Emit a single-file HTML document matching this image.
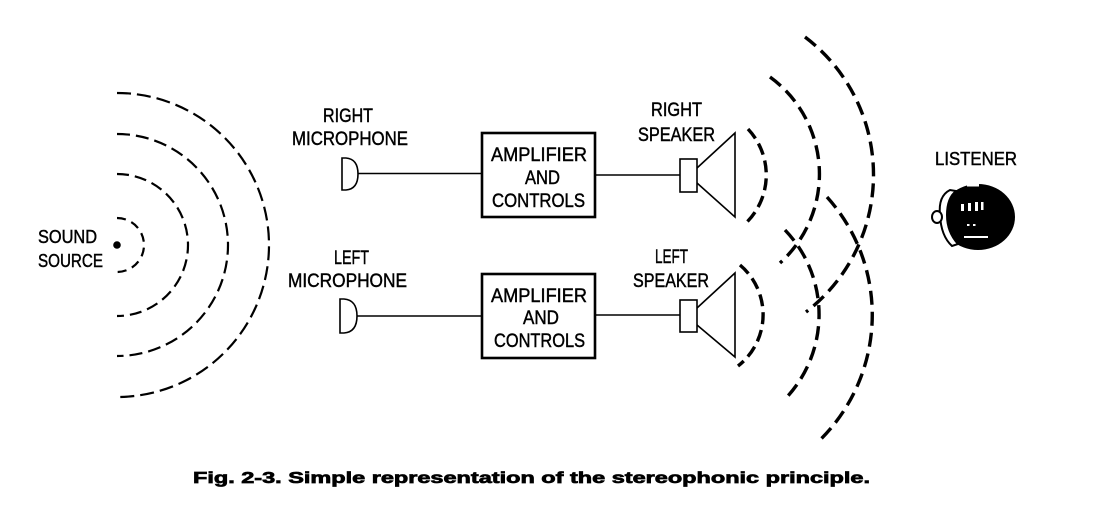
<!DOCTYPE html>
<html>
<head>
<meta charset="utf-8">
<style>
  html, body { margin: 0; padding: 0; background: #fff; }
  svg { display: block; }
  text { font-family: "Liberation Sans", sans-serif; fill: #000; }
  .lbl { stroke: #000; stroke-width: 0.45; }
  .cap { stroke: #000; stroke-width: 0.7; }
</style>
</head>
<body>
<svg width="1116" height="514" viewBox="0 0 1116 514" xmlns="http://www.w3.org/2000/svg">
  <rect x="0" y="0" width="1116" height="514" fill="#fff"/>

  <!-- Sound source -->
  <circle cx="117" cy="245" r="3.8" fill="#000"/>
  <g fill="none" stroke="#000" stroke-width="2.2">
    <path d="M117,218 A27,27 0 0 1 117,272" stroke-dasharray="9 6"/>
    <path d="M117,174 A71,71 0 0 1 117,316" stroke-dasharray="12 6"/>
    <path d="M117,134 A111,111 0 0 1 117,356" stroke-dasharray="13 6"/>
    <path d="M117,93 A152,152 0 0 1 117,397" stroke-dasharray="14 6"/>
  </g>
  <text class="lbl" x="38" y="243" font-size="18" textLength="59" lengthAdjust="spacingAndGlyphs">SOUND</text>
  <text class="lbl" x="38" y="267" font-size="18" textLength="65" lengthAdjust="spacingAndGlyphs">SOURCE</text>

  <!-- Microphone labels -->
  <text class="lbl" x="323" y="122" font-size="19" textLength="50" lengthAdjust="spacingAndGlyphs">RIGHT</text>
  <text class="lbl" x="292" y="145" font-size="19" textLength="116" lengthAdjust="spacingAndGlyphs">MICROPHONE</text>
  <text class="lbl" x="334" y="264" font-size="19" textLength="35" lengthAdjust="spacingAndGlyphs">LEFT</text>
  <text class="lbl" x="288" y="287" font-size="19" textLength="119" lengthAdjust="spacingAndGlyphs">MICROPHONE</text>

  <!-- Microphones and wires -->
  <g fill="none" stroke="#000" stroke-width="1.6">
    <path d="M342,158 L346,158 Q358,159 358,174 Q358,189 346,190 L342,190 Z"/>
    <path d="M340,299 L344,299 Q357,300 357,316 Q357,332 344,333 L340,333 Z"/>
    <line x1="358" y1="173.5" x2="481" y2="173.5"/>
    <line x1="357" y1="316" x2="481" y2="316"/>
    <line x1="596" y1="175" x2="680" y2="175"/>
    <line x1="596" y1="315" x2="680" y2="315"/>
  </g>

  <!-- Amplifier boxes -->
  <g fill="none" stroke="#000" stroke-width="2.6">
    <rect x="482" y="133" width="113" height="84"/>
    <rect x="482" y="274" width="113" height="84"/>
  </g>
  <text class="lbl" x="491" y="161" font-size="19" textLength="96" lengthAdjust="spacingAndGlyphs">AMPLIFIER</text>
  <text class="lbl" x="525" y="184" font-size="19" textLength="35" lengthAdjust="spacingAndGlyphs">AND</text>
  <text class="lbl" x="492" y="207" font-size="19" textLength="93" lengthAdjust="spacingAndGlyphs">CONTROLS</text>
  <text class="lbl" x="491" y="302" font-size="19" textLength="96" lengthAdjust="spacingAndGlyphs">AMPLIFIER</text>
  <text class="lbl" x="523" y="324" font-size="19" textLength="36" lengthAdjust="spacingAndGlyphs">AND</text>
  <text class="lbl" x="494" y="347" font-size="19" textLength="91" lengthAdjust="spacingAndGlyphs">CONTROLS</text>

  <!-- Speaker labels -->
  <text class="lbl" x="651" y="116" font-size="19" textLength="51" lengthAdjust="spacingAndGlyphs">RIGHT</text>
  <text class="lbl" x="638" y="141" font-size="19" textLength="77" lengthAdjust="spacingAndGlyphs">SPEAKER</text>
  <text class="lbl" x="655" y="263" font-size="19" textLength="33" lengthAdjust="spacingAndGlyphs">LEFT</text>
  <text class="lbl" x="633" y="287" font-size="19" textLength="76" lengthAdjust="spacingAndGlyphs">SPEAKER</text>

  <!-- Speakers -->
  <g fill="none" stroke="#000" stroke-width="1.6">
    <rect x="680" y="159" width="17" height="33"/>
    <path d="M697,168 L735,133 L735,217 L697,183"/>
    <rect x="680" y="300" width="17" height="32"/>
    <path d="M697,308 L735,273 L735,357 L697,325"/>
  </g>

  <!-- Speaker waves -->
  <g fill="none" stroke="#000" stroke-width="3.4">
    <path d="M748,129 A67,67 0 0 1 746,223" stroke-dasharray="12 6"/>
    <path d="M770,77 A120,120 0 0 1 780,263" stroke-dasharray="14 7"/>
    <path d="M805,37 A173,173 0 0 1 806,312" stroke-dasharray="14 7"/>
    <path d="M740,265 A65,65 0 0 1 738,366" stroke-dasharray="12 6"/>
    <path d="M785,230 A122,122 0 0 1 787,397" stroke-dasharray="14 7"/>
    <path d="M827,197 A176,176 0 0 1 820,440" stroke-dasharray="14 7"/>
  </g>

  <!-- Listener -->
  <text class="lbl" x="935" y="165" font-size="18" textLength="82" lengthAdjust="spacingAndGlyphs">LISTENER</text>
  <g>
    <ellipse cx="978" cy="217" rx="37" ry="33" fill="#000"/>
    <path d="M950,190 Q938,196 940,215 Q941,236 952,246 L958,244 Q947,232 947,215 Q947,198 956,191 Z" fill="#fff" stroke="#000" stroke-width="2"/>
    <ellipse cx="937" cy="217" rx="5" ry="6" fill="#fff" stroke="#000" stroke-width="2"/>
    <rect x="967" y="184" width="12" height="2.5" fill="#fff"/>
    <rect x="961" y="204" width="3" height="7" fill="#fff"/>
    <rect x="968" y="203" width="3" height="8" fill="#fff"/>
    <rect x="975" y="202" width="3" height="9" fill="#fff"/>
    <rect x="981" y="202" width="2.5" height="8" fill="#fff"/>
    <rect x="964" y="236" width="24" height="2" fill="#fff"/>
    <rect x="967" y="224" width="2.5" height="2" fill="#fff"/>
    <rect x="973" y="224" width="2.5" height="2" fill="#fff"/>
  </g>

  <!-- Caption -->
  <text class="cap" x="193" y="483" font-size="16" font-weight="bold" textLength="677" lengthAdjust="spacingAndGlyphs">Fig. 2-3. Simple representation of the stereophonic principle.</text>
</svg>
</body>
</html>
